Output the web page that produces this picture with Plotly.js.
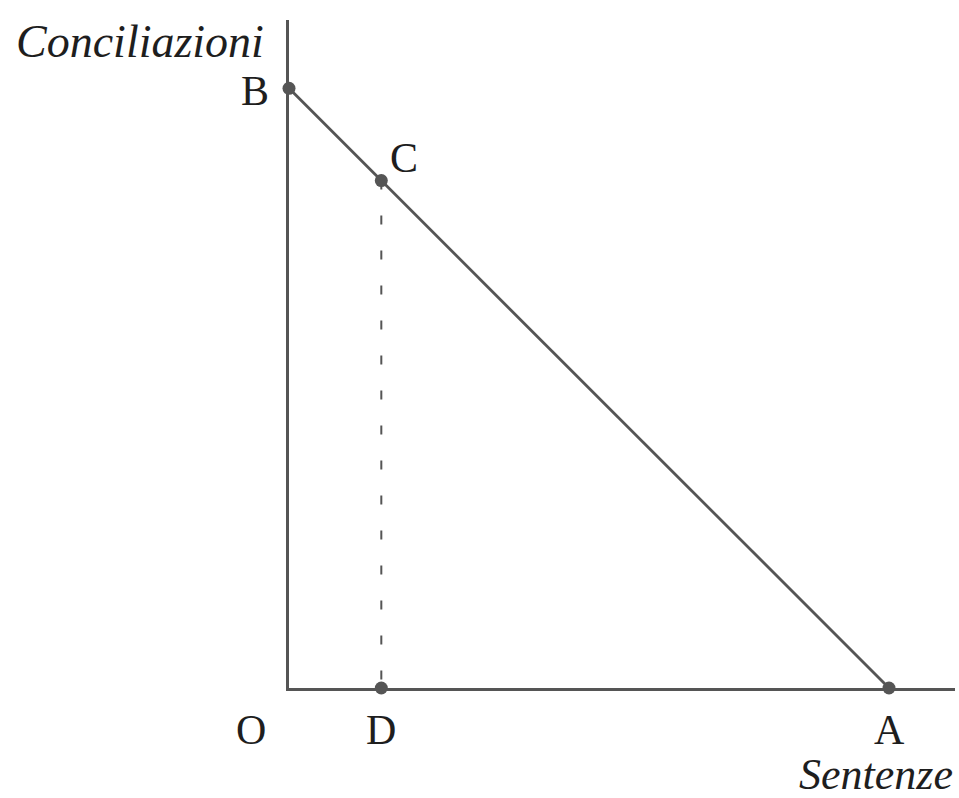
<!DOCTYPE html>
<html>
<head>
<meta charset="utf-8">
<script src="https://cdn.plot.ly/plotly-3.0.1.min.js"></script>
<style>html,body{margin:0;padding:0;background:#fff;}#chart{width:959px;height:798px;}</style>
</head>
<body>
<div id="chart"></div>
<script>
// Points of the diagram (data units)
const pointNames = ["B", "C", "D", "A"];
const pointX = [0, 1, 1, 6.5];
const pointY = [6.5, 5.5, 0, 0];
// budget line B -> A
const lineX = [0, 6.5];
const lineY = [6.5, 0];
// dashed projection C -> D
const dashX = [1, 1];
const dashY = [5.5, 0];
const xTitle = "Sentenze";
const yTitle = "Conciliazioni";
const originLabel = "O";

const col = "#555555";
const serif = "Liberation Serif, Times New Roman, serif";
const txt = "#1e1e1e";

const traces = [
  {x: lineX, y: lineY, mode: "lines", line: {color: col, width: 2.8}, cliponaxis: false, hoverinfo: "skip"},
  {x: dashX, y: dashY, mode: "lines", line: {color: col, width: 2, dash: "9px,26px"}, cliponaxis: false, hoverinfo: "skip"},
  {x: pointX, y: pointY, mode: "markers", marker: {color: col, size: 13}, cliponaxis: false, text: pointNames, hoverinfo: "text"}
];

const layout = {
  width: 959, height: 798,
  margin: {l: 289, r: 4, t: 20, b: 110},
  paper_bgcolor: "#fff", plot_bgcolor: "#fff",
  showlegend: false,
  xaxis: {range: [0, 7.215], showline: true, linecolor: col, linewidth: 2.8, showgrid: false, zeroline: false, showticklabels: false, ticks: ""},
  yaxis: {range: [0, 7.24], showline: true, linecolor: col, linewidth: 2.8, showgrid: false, zeroline: false, showticklabels: false, ticks: ""},
  annotations: [
    {xref: "paper", yref: "paper", x: -0.034, y: 1.0, xanchor: "right", yanchor: "middle", yshift: -21, text: "<i>" + yTitle + "</i>", showarrow: false, font: {family: serif, size: 46, color: txt}},
    {xref: "paper", yref: "paper", x: 1.0, y: 0, xanchor: "right", yanchor: "middle", yshift: -86, text: "<i>" + xTitle + "</i>", showarrow: false, font: {family: serif, size: 44, color: txt}},
    {xref: "x", yref: "y", x: pointX[0], y: pointY[0], xanchor: "right", yanchor: "middle", xshift: -18, yshift: -3, text: pointNames[0], showarrow: false, font: {family: serif, size: 42, color: txt}},
    {xref: "x", yref: "y", x: pointX[1], y: pointY[1], xanchor: "left", yanchor: "middle", xshift: 7, yshift: 23, text: pointNames[1], showarrow: false, font: {family: serif, size: 42, color: txt}},
    {xref: "x", yref: "y", x: pointX[2], y: pointY[2], xanchor: "center", yanchor: "middle", yshift: -42, text: pointNames[2], showarrow: false, font: {family: serif, size: 42, color: txt}},
    {xref: "x", yref: "y", x: pointX[3], y: pointY[3], xanchor: "center", yanchor: "middle", yshift: -42, text: pointNames[3], showarrow: false, font: {family: serif, size: 42, color: txt}},
    {xref: "x", yref: "y", x: 0, y: 0, xanchor: "center", yanchor: "middle", xshift: -38, yshift: -42, text: originLabel, showarrow: false, font: {family: serif, size: 42, color: txt}}
  ]
};

Plotly.newPlot("chart", traces, layout, {displayModeBar: false, staticPlot: true});
</script>
</body>
</html>
